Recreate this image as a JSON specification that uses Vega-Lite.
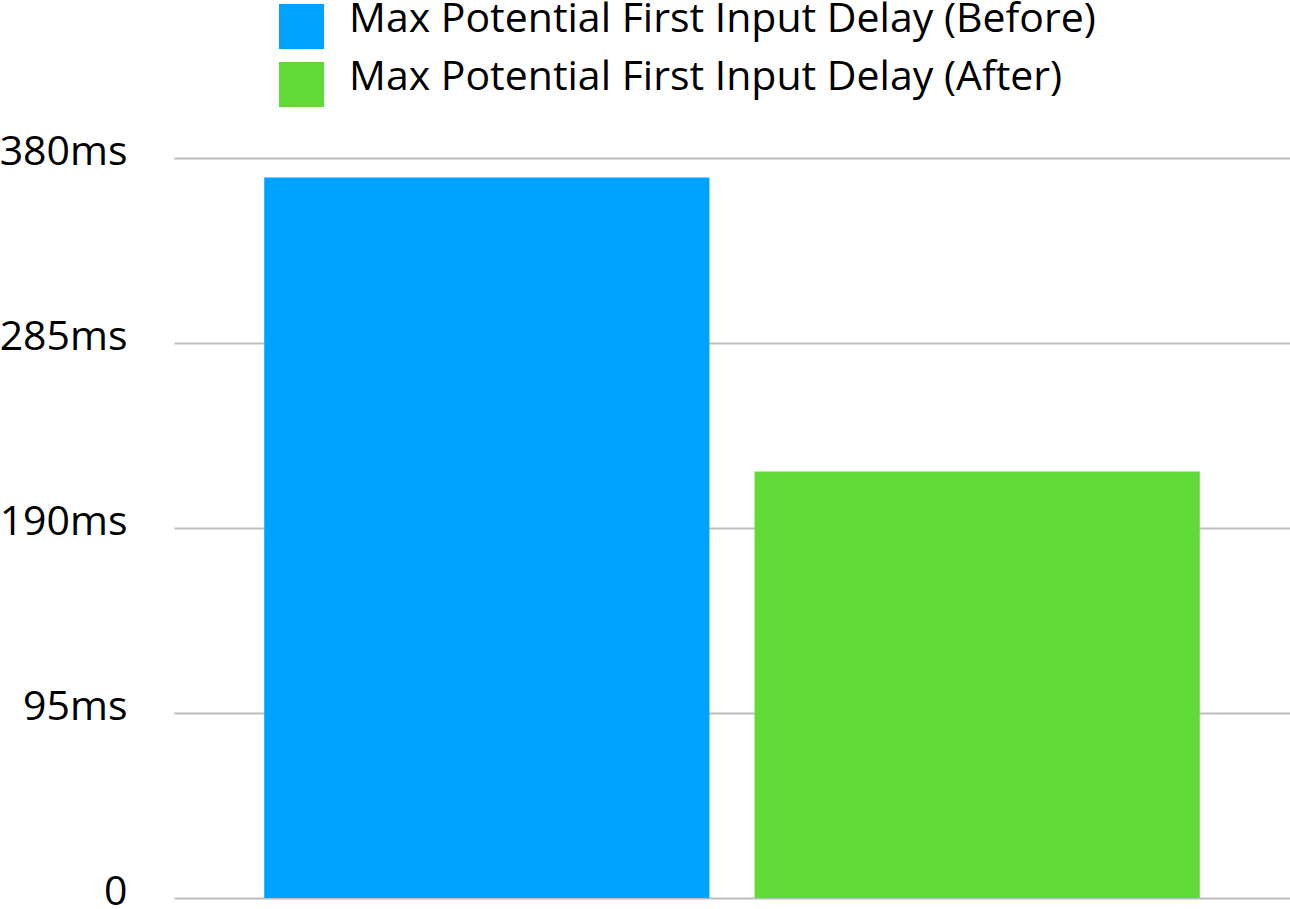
{
  "$schema": "https://vega.github.io/schema/vega-lite/v6.json",
  "autosize": "none",
  "padding": {"left": 174, "top": 158, "right": 0, "bottom": 11},
  "width": 1116,
  "height": 740,
  "background": "white",
  "config": {"view": {"stroke": null}},
  "data": {
    "values": [
      {"series": "Max Potential First Input Delay (Before)", "delay": 370},
      {"series": "Max Potential First Input Delay (After)", "delay": 219}
    ]
  },
  "mark": "bar",
  "encoding": {
    "x": {
      "field": "series",
      "type": "nominal",
      "sort": null,
      "scale": {"paddingInner": 0.092, "paddingOuter": 0.184},
      "axis": null
    },
    "y": {
      "field": "delay",
      "type": "quantitative",
      "scale": {"domain": [0, 380], "nice": false},
      "axis": {
        "title": null,
        "values": [0, 95, 190, 285, 380],
        "labelExpr": "datum.value == 0 ? '0' : datum.value + 'ms'",
        "domain": false,
        "ticks": false,
        "grid": true,
        "gridColor": "#bdbdbd",
        "gridWidth": 2,
        "labelPadding": 47,
        "labelFont": "Open Sans",
        "labelFontSize": 41,
        "labelColor": "#000000",
        "labelBaseline": "alphabetic",
        "labelOffset": 6
      }
    },
    "color": {
      "field": "series",
      "type": "nominal",
      "sort": null,
      "scale": {
        "domain": ["Max Potential First Input Delay (Before)", "Max Potential First Input Delay (After)"],
        "range": ["#00a2ff", "#61da38"]
      },
      "legend": {
        "title": null,
        "orient": "none",
        "legendX": 105,
        "legendY": -154,
        "padding": 0,
        "symbolType": "square",
        "symbolSize": 2025,
        "symbolStrokeWidth": 0,
        "labelFont": "Open Sans",
        "labelFontSize": 41,
        "labelColor": "#000000",
        "labelOffset": 25,
        "labelLimit": 1000,
        "rowPadding": 7,
        "labelBaseline": "middle",
        "encode": {"labels": {"update": {"dy": {"value": -7}}}}
      }
    }
  }
}
